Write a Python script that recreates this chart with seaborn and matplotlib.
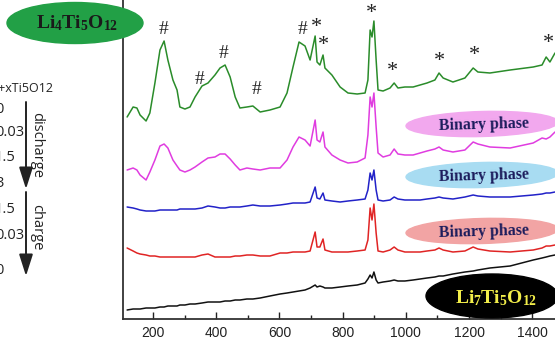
import numpy as np
import pandas as pd
import matplotlib
matplotlib.use("Agg")
import matplotlib.pyplot as plt
from matplotlib.patches import Ellipse
from matplotlib.ticker import MultipleLocator
import seaborn as sns

# Raman shift (cm-1) sampled along the spectra
wavenumber = [118, 137, 149, 159, 178, 190, 206, 222, 235, 247, 263, 276, 285, 301, 317, 333,
              355, 374, 396, 412, 428, 444, 460, 475, 497, 516, 539, 570, 602, 624, 643, 662,
              681, 697, 713, 719, 728, 738, 744, 766, 792, 817, 846, 871, 880, 887, 893, 899,
              906, 912, 928, 950, 963, 975, 997, 1023, 1045, 1067, 1092, 1105, 1118, 1149,
              1187, 1213, 1228, 1266, 1330, 1403, 1431, 1444, 1456, 1472]

# intensities (a.u., already stacked with offsets)
green = [202, 212, 211, 204, 198, 206, 236, 269, 278, 259, 239, 229, 212, 210, 212, 222,
         233, 236, 244, 251, 254, 242, 222, 211, 212, 213, 207, 209, 212, 226, 252, 277,
         273, 259, 283, 257, 254, 264, 251, 244, 232, 226, 225, 226, 239, 289, 282, 298,
         259, 229, 228, 231, 236, 231, 232, 232, 234, 236, 239, 246, 241, 237,
         241, 251, 247, 246, 249, 252, 254, 262, 257, 266]
magenta = [149, 151, 149, 144, 139, 147, 159, 173, 175, 171, 159, 153, 149, 147, 149, 152,
           157, 161, 162, 165, 165, 160, 154, 149, 151, 150, 149, 151, 151, 159, 172, 182,
           179, 173, 199, 179, 177, 187, 172, 164, 159, 156, 157, 161, 184, 222, 212, 226,
           192, 166, 162, 164, 170, 165, 164, 164, 166, 168, 170, 172, 169, 167,
           169, 177, 175, 172, 171, 176, 181, 180, 182, 187]
blue = [112, 111, 110, 109, 108, 108, 108, 109, 109, 109, 109, 109, 110, 110, 110, 110,
        111, 113, 112, 111, 111, 112, 112, 112, 113, 114, 113, 113, 114, 115, 116, 116,
        116, 117, 132, 121, 120, 126, 119, 118, 117, 118, 119, 120, 129, 146, 139, 149,
        129, 119, 118, 119, 122, 120, 119, 119, 119, 120, 121, 122, 121, 120,
        122, 124, 123, 122, 122, 124, 125, 126, 126, 127]
red = [71, 68, 66, 65, 64, 63, 63, 62, 62, 62, 62, 62, 62, 62, 62, 62,
       64, 65, 62, 62, 62, 62, 63, 63, 64, 64, 63, 63, 66, 66, 67, 67,
       67, 68, 87, 72, 72, 80, 69, 67, 67, 67, 68, 69, 79, 111, 99, 115,
       86, 68, 67, 69, 72, 69, 67, 67, 67, 68, 69, 71, 69, 67,
       68, 72, 70, 68, 67, 69, 71, 73, 73, 74]
black = [9, 10, 10, 10, 11, 11, 11, 12, 12, 13, 13, 13, 14, 14, 15, 15,
         16, 17, 17, 17, 18, 18, 19, 19, 20, 20, 21, 23, 25, 26, 27, 28,
         29, 31, 34, 32, 33, 32, 31, 31, 32, 33, 34, 36, 40, 44, 41, 47,
         39, 36, 37, 38, 39, 38, 38, 39, 40, 41, 42, 43, 43, 45,
         47, 48, 49, 51, 53, 59, 61, 62, 63, 64]

# peak markers
hash_x = [232, 346, 422, 526, 672]
hash_y = [289, 240, 265, 230, 290]
star_x = [716, 738, 890, 959, 1105, 1216, 1450]
star_y = [291, 273, 305, 247, 258, 264, 276]

xtick_values = [200, 400, 600, 800, 1000, 1200, 1400]
x_values = ["0", "0.03", "1.5", "3", "1.5", "0.03", "0"]

sns.set_theme(style="white")
plt.rcParams['font.family'] = ['Liberation Sans', 'DejaVu Sans']
plt.rcParams['mathtext.fontset'] = 'custom'
plt.rcParams['mathtext.rm'] = 'Liberation Serif'
plt.rcParams['mathtext.bf'] = 'Liberation Serif:bold'
plt.rcParams['mathtext.it'] = 'Liberation Serif:italic'

df = pd.DataFrame({"wavenumber": wavenumber, "g": green, "m": magenta,
                   "b": blue, "r": red, "k": black})
df = df.melt(id_vars="wavenumber", var_name="sample", value_name="intensity")
colors = {"g": "#2a8c2a", "m": "#e03ce0", "b": "#2222c8", "r": "#e02424", "k": "#111111"}

fig = plt.figure(figsize=(5.55, 3.47), dpi=100)
ax = fig.add_axes([123/555, 28/347, 432/555, 319/347])
sns.lineplot(data=df, x="wavenumber", y="intensity", hue="sample", palette=colors,
             linewidth=1.1, legend=False, estimator=None, ax=ax)
ax.set_xlim(105, 1472)
ax.set_ylim(0, 319)
ax.set_xlabel("")
ax.set_ylabel("")
ax.set_yticks([])
ax.set_xticks(xtick_values)
ax.set_xticklabels([str(v) for v in xtick_values])
ax.xaxis.set_minor_locator(MultipleLocator(100))
ax.tick_params(axis="x", which="both", direction="in", bottom=True, colors="#222222",
               labelsize=10, pad=5)
ax.tick_params(axis="x", which="major", length=5, width=1)
ax.tick_params(axis="x", which="minor", length=3, width=1)
ax.spines["top"].set_visible(False)
ax.spines["right"].set_visible(False)
for s in ["left", "bottom"]:
    ax.spines[s].set_color("#333333")
    ax.spines[s].set_linewidth(1.3)

for x, y in zip(hash_x, hash_y):
    ax.text(x, y, "#", ha="center", va="center", fontsize=14,
            family="Liberation Serif", color="#222222")
for x, y in zip(star_x, star_y):
    ax.text(x, y, "*", ha="center", va="center", fontsize=16,
            family="Liberation Serif", color="#222222")

# overlay in pixel units for labels and ellipses
ov = fig.add_axes([0, 0, 1, 1])
ov.set_xlim(0, 555)
ov.set_ylim(347, 0)
ov.set_axis_off()

ov.add_patch(Ellipse((75, 23), 136, 41, color="#22a046"))
ov.text(77, 28, r"$\mathbf{Li_4Ti_5O_{12}}$", ha="center", va="baseline", fontsize=14, color="k")

ov.add_patch(Ellipse((492, 296), 132, 44, color="#000000"))
ov.text(496, 303, r"$\mathbf{Li_7Ti_5O_{12}}$", ha="center", va="baseline", fontsize=14,
        color="#f2ee4a")

for cy, fc in [(124, "#f2a8ee"), (175, "#a8dcf2"), (231, "#f2a4a4")]:
    ov.add_patch(Ellipse((482, cy), 152, 25, angle=-1.5, color=fc))
    ov.text(484, cy + 1, "Binary phase", ha="center", va="center", fontsize=11.5,
            fontweight="bold", family="Liberation Serif", color="#1c1c5c", rotation=1.5)

ov.text(54, 88, "Li4+xTi5O12", ha="right", va="center", fontsize=9,
        family="Open Sans", color="#222222")
for y, lab in zip([109, 132, 157, 183, 209, 235, 270], x_values):
    ov.text(-5, y, lab, ha="left", va="center", fontsize=10.5, family="Open Sans",
            color="#222222")

arrow = dict(arrowstyle="-|>,head_length=1.1,head_width=0.35", color="#222222", lw=1.4,
             mutation_scale=12, shrinkA=0, shrinkB=0)
ov.annotate("", xy=(26, 189), xytext=(26, 102), arrowprops=arrow)
ov.annotate("", xy=(26, 276), xytext=(26, 192), arrowprops=arrow)
ov.text(37, 145, "discharge", rotation=270, ha="center", va="center", fontsize=10.5,
        family="Open Sans", color="#222222")
ov.text(37, 227, "charge", rotation=270, ha="center", va="center", fontsize=10.5,
        family="Open Sans", color="#222222")

fig.savefig("out.png", dpi=100)
